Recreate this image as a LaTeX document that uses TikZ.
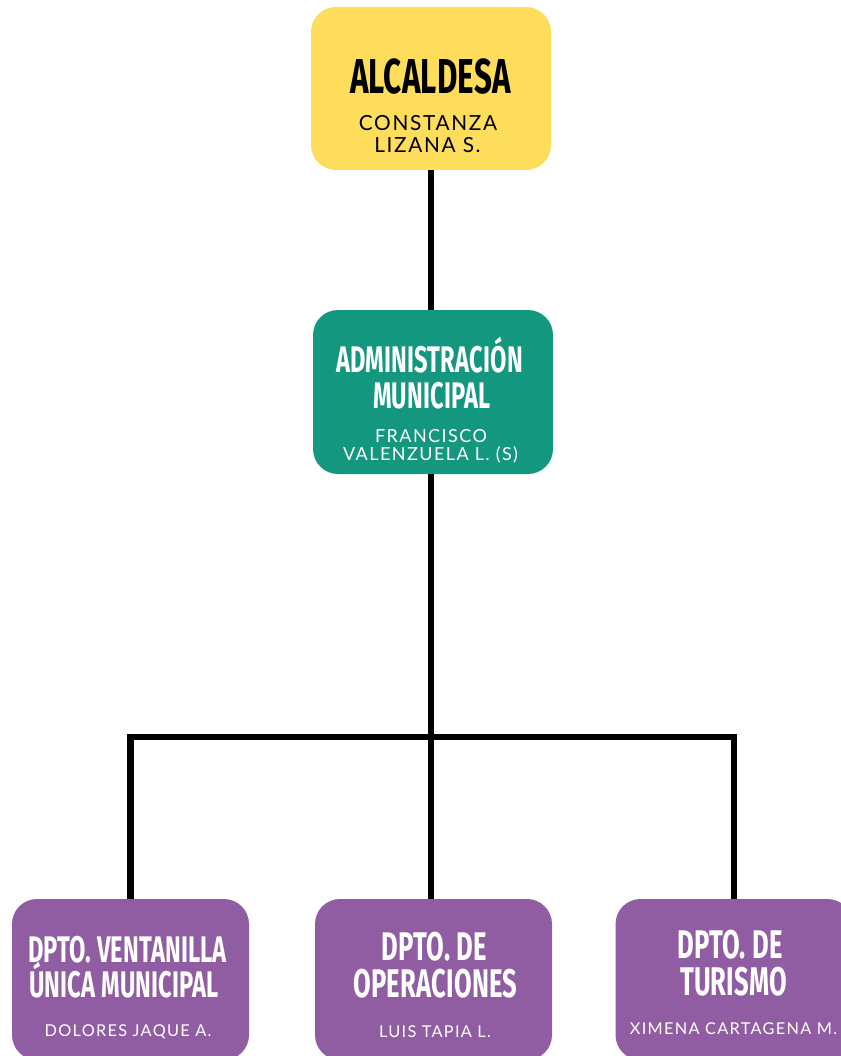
\documentclass[tikz,border=0pt]{standalone}
\usepackage{fontspec}
\setmainfont{Lato}
\newfontfamily\hdfont[FakeStretch=0.64,LetterSpace=0.5]{Fira Sans}
\newfontfamily\subfont[LetterSpace=8]{Lato}
\definecolor{yel}{HTML}{FEDC5C}
\definecolor{teal}{HTML}{13977F}
\definecolor{purp}{HTML}{915DA2}
\tikzset{
  box/.style={rectangle, rounded corners=25pt, draw=none, inner sep=0pt},
  conn/.style={line width=6.5pt, draw=black, line join=miter},
  hd/.style={anchor=base, inner sep=0pt},
  sb/.style={anchor=base, inner sep=0pt},
}
\newcommand{\hdA}{\hdfont\bfseries\fontsize{49}{49}\selectfont}
\newcommand{\hdB}{\hdfont\bfseries\fontsize{37}{37}\selectfont}
\newcommand{\hdC}{\hdfont\bfseries\fontsize{40}{40}\selectfont}
\newcommand{\sbA}{\subfont\fontsize{20.8}{20.8}\selectfont}
\newcommand{\sbM}{\subfont\fontsize{18}{18}\selectfont}
\newcommand{\sbB}{\subfont\fontsize{16.3}{16.3}\selectfont}
\begin{document}
\begin{tikzpicture}[x=1pt,y=-1pt]
\useasboundingbox (0,0) rectangle (840,1056);
% boxes
\node[box, fill=yel, minimum width=240pt, minimum height=163pt] (alc) at (431,88.5) {};
\node[box, fill=teal, minimum width=240pt, minimum height=164pt] (adm) at (433,392) {};
\node[box, fill=purp, minimum width=237pt, minimum height=161pt] (b1) at (130.5,979.5) {};
\node[box, fill=purp, minimum width=237pt, minimum height=161pt] (b2) at (433.5,979.5) {};
\node[box, fill=purp, minimum width=237pt, minimum height=161pt] (b3) at (734,979.5) {};
% connectors
\coordinate (j) at (431,737);
\draw[conn] (alc.south) -- (alc.south |- adm.north);
\draw[conn] (adm.south -| j) -- (j);
\draw[conn] (b1.north) |- (j) -| (b3.north);
\draw[conn] (j) -- (j |- b2.north);
% texts
\node[hd, font=\hdA, text=black] (t1) at (430.5,94) {ALCALDESA};
\node[sb, font=\sbA, text=black] (t2) at (428,131) {CONSTANZA};
\node[sb, font=\sbA, text=black] (t3) at (427.5,153) {LIZANA S.};
\node[hd, font=\hdB, text=white] (t4) at (429.5,372) {ADMINISTRACIÓN};
\node[hd, font=\hdB, text=white] (t5) at (432,408) {MUNICIPAL};
\node[sb, font=\sbM, text=white] (t6) at (431,442) {FRANCISCO};
\node[sb, font=\sbM, text=white] (t7) at (430.5,460) {VALENZUELA L. (S)};
\node[hd, font=\hdB, text=white] (t8) at (127.5,962) {DPTO. VENTANILLA};
\node[hd, font=\hdB, text=white] (t9) at (124,997) {ÚNICA MUNICIPAL};
\node[sb, font=\sbB, text=white] (t10) at (128,1036) {DOLORES JAQUE A.};
\node[hd, font=\hdC, text=white] (t11) at (434.5,960) {DPTO. DE};
\node[hd, font=\hdC, text=white] (t12) at (435.5,997) {OPERACIONES};
\node[sb, font=\sbB, text=white] (t13) at (435,1037) {LUIS TAPIA L.};
\node[hd, font=\hdC, text=white] (t14) at (730,958) {DPTO. DE};
\node[hd, font=\hdC, text=white] (t15) at (733.5,995) {TURISMO};
\node[sb, font=\sbB, text=white] (t16) at (733.5,1034) {XIMENA CARTAGENA M.};
\end{tikzpicture}
\end{document}
